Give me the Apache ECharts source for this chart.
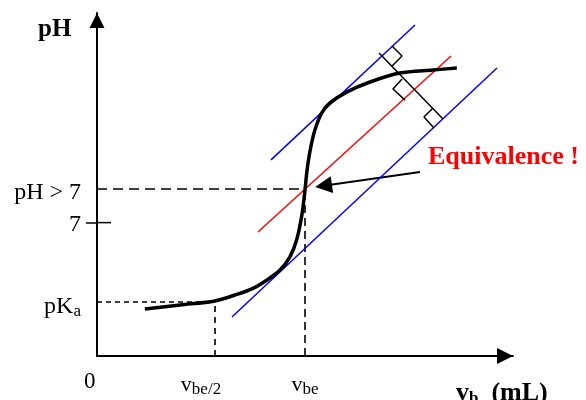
<!DOCTYPE html>
<html>
<head>
<meta charset="utf-8">
<script src="https://cdn.jsdelivr.net/npm/echarts@6/dist/echarts.min.js"></script>
<style>
  html, body { margin: 0; padding: 0; background: #fff; }
  #chart { width: 586px; height: 400px; }
</style>
</head>
<body>
<div id="chart"></div>
<script>
// titration curve, volume (arbitrary mL units) vs pH
var curve = [
  [4.6, 2.47], [8.0, 2.68], [11.35, 2.89], [13.27, 3.2], [14.9, 3.52],
  [16.35, 3.99], [17.6, 4.51], [18.55, 5.2], [19.2, 6.1], [19.7, 7.4],
  [20.0, 8.71], [20.2, 9.76], [20.5, 10.81], [20.95, 11.86], [21.6, 12.75],
  [22.4, 13.28], [24.0, 13.85], [26.25, 14.38], [29.1, 14.85], [32.3, 15.01],
  [34.6, 15.11]
];
// tangents (blue) and the middle parallel (red)
var tangentLow = [[12.98, 2.05], [38.46, 15.11]];
var tangentHigh = [[16.73, 10.29], [30.58, 17.37]];
var middleLine = [[15.48, 6.51], [34.04, 15.74]];
// perpendicular segment and right-angle marks
var perpLine = [[27.12, 15.9], [33.27, 12.44]];
var squareHigh = [[28.37, 16.27], [29.33, 15.74], [28.37, 15.22]];
var squareMid = [[29.33, 14.54], [28.46, 14.01], [29.62, 13.43]];
var squareLow = [[32.31, 13.01], [31.44, 12.54], [32.4, 11.96]];
// dashed guides
var vbe = 20, vbeHalf = 11.35, phEq = 8.76, pKa = 2.83;
var guideEqH = [[0, phEq], [vbe, phEq]];
var guideEqV = [[vbe, 0], [vbe, phEq]];
var guideKaH = [[0, pKa], [vbeHalf, pKa]];
var guideKaV = [[vbeHalf, 0], [vbeHalf, pKa]];
var tick7 = [[0, 7], [1.35, 7]];
var arrowFrom = [31.06, 9.66], arrowTo = [21.78, 8.93];

var yTickValues = [2.6, 6.9, 8.55];
var yTickLabels = ['{t|pK}{s|a}', '{t|7}', '{t|pH > 7}'];
var xTickValues = [10, 20];
var xTickLabels = ['{t|v}{s|be/2}', '{t|v}{s|be}'];

var serif = 'Liberation Serif';

function seg(data, color, width, dash) {
  return {
    type: 'line', data: data, symbol: 'none', silent: true, clip: false,
    lineStyle: { color: color, width: width, type: dash || 'solid' }
  };
}

var chart = echarts.init(document.getElementById('chart'));
chart.setOption({
  animation: false,
  grid: { left: 97, top: 13, width: 416, height: 343 },
  xAxis: {
    type: 'value', min: 0, max: 40,
    splitLine: { show: false },
    axisTick: { show: false },
    axisLine: {
      lineStyle: { color: '#000', width: 2 },
      symbol: ['none', 'triangle'], symbolSize: [16, 16], symbolOffset: [0, -8]
    },
    axisLabel: {
      customValues: xTickValues, margin: 16,
      formatter: function (v) { return xTickLabels[xTickValues.indexOf(v)]; },
      rich: {
        t: { fontFamily: serif, fontSize: 22, color: '#000' },
        s: { fontFamily: serif, fontSize: 17, color: '#000', padding: [9, 0, 0, 0] }
      }
    }
  },
  yAxis: {
    type: 'value', min: 0, max: 18,
    splitLine: { show: false },
    axisTick: {
      show: true, customValues: [7], length: 11,
      lineStyle: { color: '#000', width: 1.5 }
    },
    axisLine: {
      lineStyle: { color: '#000', width: 2 },
      symbol: ['none', 'triangle'], symbolSize: [15, 15], symbolOffset: [0, -7.5]
    },
    axisLabel: {
      customValues: yTickValues, margin: 16,
      formatter: function (v) { return yTickLabels[yTickValues.indexOf(v)]; },
      rich: {
        t: { fontFamily: serif, fontSize: 24, color: '#000' },
        s: { fontFamily: serif, fontSize: 17, color: '#000', padding: [11, 0, 0, 0] }
      }
    }
  },
  graphic: [
    { type: 'text', x: 38, y: 30,
      style: { text: 'pH', font: 'bold 25px "Liberation Serif"', fill: '#000', verticalAlign: 'middle' } },
    { type: 'text', x: 84, y: 382,
      style: { text: '0', font: '23px "Liberation Serif"', fill: '#000', verticalAlign: 'middle' } },
    { type: 'text', x: 456, y: 393,
      style: { text: '{v|v}{s|b}{v|  (mL)}', fill: '#000', verticalAlign: 'middle',
        rich: {
          v: { fontFamily: serif, fontWeight: 'bold', fontSize: 26 },
          s: { fontFamily: serif, fontWeight: 'bold', fontSize: 17, padding: [12, 0, 0, 0] }
        } } },
    { type: 'text', x: 428, y: 157,
      style: { text: 'Equivalence !', font: 'bold 26px "Liberation Serif"', fill: '#ff0000', verticalAlign: 'middle' } }
  ],
  series: [
    seg(guideEqH, '#000', 1.6, [10, 6]),
    seg(guideEqV, '#000', 1.6, [8, 5]),
    seg(guideKaH, '#000', 1.6, [5, 4]),
    seg(guideKaV, '#000', 1.6, [6, 5]),
    seg(tick7, '#000', 1.5),
    seg(tangentLow, '#0000ff', 1.5),
    seg(tangentHigh, '#0000ff', 1.5),
    seg(middleLine, '#ff0000', 1.5),
    seg(perpLine, '#000', 1.5),
    seg(squareHigh, '#000', 1.5),
    seg(squareMid, '#000', 1.5),
    seg(squareLow, '#000', 1.5),
    Object.assign(seg(curve, '#000', 3.5), { smooth: 0.3 }),
    {
      type: 'lines', coordinateSystem: 'cartesian2d', silent: true,
      symbol: ['none', 'triangle'], symbolSize: [15, 17],
      lineStyle: { color: '#000', width: 2, opacity: 1 },
      data: [{ coords: [arrowFrom, arrowTo] }]
    }
  ]
});
</script>
</body>
</html>
